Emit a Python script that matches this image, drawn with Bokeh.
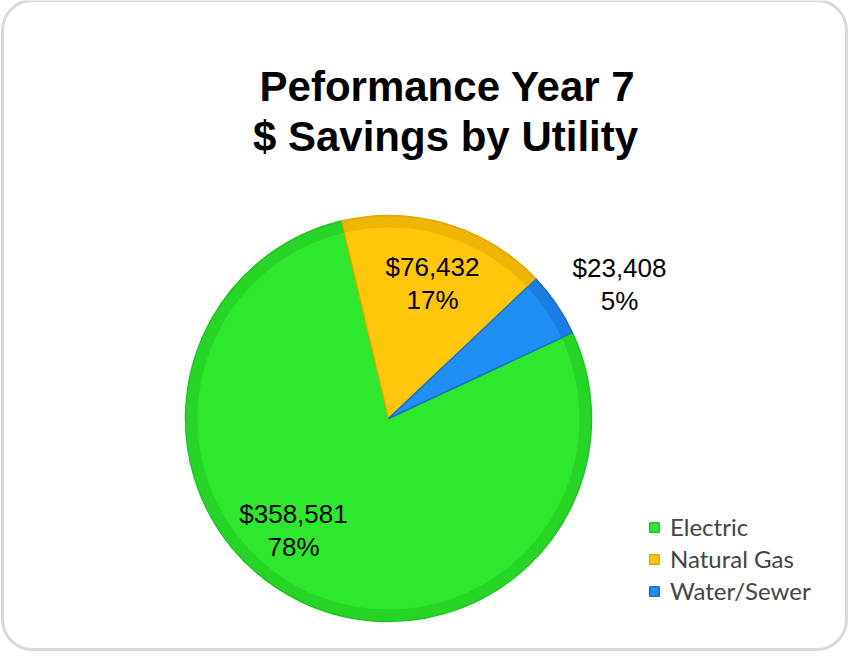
import math
from bokeh.plotting import figure
from bokeh.models import Range1d, ColumnDataSource, Legend, LegendItem, BoxAnnotation
from bokeh.core.properties import value
from bokeh.embed import file_html
from bokeh.resources import INLINE

# ---- data ----
categories = ["Electric", "Natural Gas", "Water/Sewer"]
savings = [358581, 76432, 23408]
colors = ["#2ee82e", "#ffc60a", "#1f8ef5"]
rim_colors = ["#22c422", "#e0a800", "#1670d0"]
title_lines = ["Peformance Year 7", "$ Savings by Utility"]

# ---- layout ----
W, H = 848, 651
def py(page_y):  # page y -> data y
    return 659 - page_y
def px(page_x):
    return page_x - 8

cx, cy, R = px(396), py(426), 203
start_theta = 65.0  # clockwise from 12 o'clock, where the first slice begins

total = float(sum(savings))
starts, ends = [], []
th = start_theta
for v in savings:
    span = v / total * 360.0
    starts.append(math.radians(90 - th))
    ends.append(math.radians(90 - th - span))
    th += span

src = ColumnDataSource(dict(cat=categories, val=savings, color=colors, rim=rim_colors,
                            start=starts, end=ends))

p = figure(width=W, height=H, x_range=Range1d(0, W), y_range=Range1d(0, H),
           output_backend="svg", toolbar_location=None, min_border=0)
p.axis.visible = False
p.grid.visible = False
p.outline_line_color = None
p.background_fill_color = "white"
p.border_fill_color = "white"

frame = BoxAnnotation(left=2, right=846, bottom=2, top=651,
                      fill_color=None, line_color="#808080", line_width=3,
                      border_radius=30, level="underlay")
p.add_layout(frame)

w = p.wedge(x=cx, y=cy, radius=R, start_angle="start", end_angle="end",
            direction="clock", fill_color="color", line_color="rim", line_width=1.5,
            source=src)
p.annular_wedge(x=cx, y=cy, inner_radius=R - 12, outer_radius=R,
                start_angle="start", end_angle="end", direction="clock",
                fill_color="rim", fill_alpha=0.55, line_color=None, source=src)

# data labels
label_pos = {"Electric": (px(301), py(538)), "Natural Gas": (px(440), py(291)),
             "Water/Sewer": (px(627), py(292))}
lx, ly, lt = [], [], []
for c, v in zip(categories, savings):
    x, y = label_pos[c]
    lx.append(x); ly.append(y)
    lt.append("${:,}\n{:.0f}%".format(v, v / total * 100))
p.text(x=lx, y=ly, text=lt, text_align="center", text_baseline="middle",
       text_font=value("Liberation Sans"), text_font_size="26px", text_color="black",
       text_line_height=1.12)

# title
p.text(x=[px(455), px(453)], y=[py(94), py(144)], text=title_lines,
       text_align="center", text_baseline="middle",
       text_font=value("Liberation Sans"), text_font_style="bold",
       text_font_size="42px", text_color="black")

# legend
items = []
for i, c in enumerate(categories):
    items.append(LegendItem(label=c, renderers=[w], index=i))
legend = Legend(items=items, location=(px(656), py(613)),
                label_text_font="Lato", label_text_font_size="24px",
                glyph_width=12, glyph_height=12, label_standoff=10,
                label_height=24, spacing=3, padding=0, margin=0,
                border_line_color=None, background_fill_alpha=0)
p.add_layout(legend)

open("out.html", "w").write(file_html(p, INLINE))
